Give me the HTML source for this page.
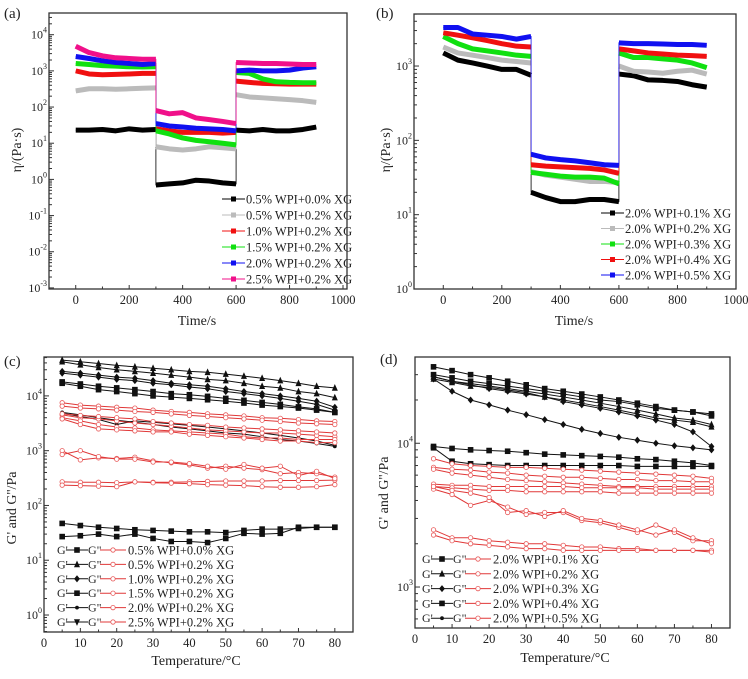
<!DOCTYPE html>
<html><head><meta charset="utf-8"><style>
body{margin:0;background:#fff;width:748px;height:674px;overflow:hidden}
svg{font-family:"Liberation Serif",serif}
</style></head><body>
<svg id="fig" width="748" height="674" viewBox="0 0 748 674" xmlns="http://www.w3.org/2000/svg"></svg>
<script>
// ---------- Panel (a) data ----------
const aTimes = [0,50,100,150,200,250,300];
const aLabels = ["0.5% WPI+0.0% XG","0.5% WPI+0.2% XG","1.0% WPI+0.2% XG","1.5% WPI+0.2% XG","2.0% WPI+0.2% XG","2.5% WPI+0.2% XG"];
const aColors = ["#000","#bbb","#f01010","#10e010","#1010f0","#f0108a"];
const aPhase1 = [[23,23,24,22,25,23,24],[280,320,320,310,320,330,340],[1000,820,780,800,820,850,850],[1600,1500,1400,1350,1300,1280,1300],[2500,2200,1900,1700,1600,1500,1600],[4800,3200,2600,2300,2200,2100,2100]];
const aPhase2 = [[0.7,0.75,0.8,0.95,0.9,0.8,0.75],[8,7,6.5,7,8,7.5,7],[25,22,20,20,20,19,20],[22,18,14,12,11,10,9],[35,30,28,26,25,24,22],[80,65,70,50,45,40,35]];
const aPhase3 = [[23,22,24,22,22,24,28],[220,190,180,170,160,150,135],[520,480,450,440,430,430,430],[900,850,600,500,480,470,470],[1000,1050,1000,1000,1050,1200,1300],[1700,1650,1600,1600,1550,1500,1500]];
// ---------- Panel (b) data ----------
const bLabels = ["2.0% WPI+0.1% XG","2.0% WPI+0.2% XG","2.0% WPI+0.3% XG","2.0% WPI+0.4% XG","2.0% WPI+0.5% XG"];
const bColors = ["#000","#bbb","#10e010","#f01010","#1010f0"];
const bPhase1 = [[1500,1200,1100,1000,900,900,750],[1800,1500,1400,1300,1200,1150,1100],[2500,2000,1700,1600,1500,1400,1350],[2800,2600,2400,2200,2000,1850,1800],[3300,3300,2700,2600,2500,2300,2500]];
const bPhase2 = [[20,17,15,15,16,16,15],[38,34,32,30,28,28,27],[37,35,33,32,32,31,26],[47,45,44,43,42,40,36],[65,58,55,53,50,47,46]];
const bPhase3 = [[780,740,650,640,620,560,520],[1000,850,830,800,850,880,780],[1500,1300,1300,1250,1200,1100,950],[1700,1600,1500,1450,1400,1380,1350],[2050,2000,2000,1980,1950,1950,1900]];
// ---------- Panel (c) data ----------
const temps = [5,10,15,20,25,30,35,40,45,50,55,60,65,70,75,80];
const cLabels = ["0.5% WPI+0.0% XG","0.5% WPI+0.2% XG","1.0% WPI+0.2% XG","1.5% WPI+0.2% XG","2.0% WPI+0.2% XG","2.5% WPI+0.2% XG"];
const cBlack = [[47,43,40,38,36,35,34,33,33,32,35,37,37,38,40,40],[27,28,30,27,30,25,22,22,21,25,31,30,31,40,40,40],
[45000,42000,39000,36000,34000,32000,30000,28000,27000,25000,23000,21000,19000,17000,15000,14000],
[42000,37000,33000,30000,28000,26000,24000,22000,20000,19000,17000,15000,14000,12000,11000,9300],
[28000,26000,24000,22000,21000,19000,17000,16000,15000,13500,12000,11000,10000,9000,8000,6200],
[26000,24000,22000,20000,19000,17000,16000,14500,13500,12000,11000,10000,9000,8000,7000,5500],
[18000,16500,15000,14000,13000,12000,11000,10500,9800,9000,8300,7600,7000,6300,5800,5000],
[17000,15000,13000,12000,11000,10000,9500,9000,8500,8000,7400,6800,6400,6000,5500,5000],
[5000,4500,4000,3600,3300,3000,2700,2500,2300,2100,2000,1800,1600,1500,1350,1200],
[4800,4200,3700,3000,3500,3300,3100,2900,2700,2500,2300,2100,1900,1700,1500,1250]];
const cRed = [[270,265,265,260,270,265,265,270,275,280,280,280,285,285,285,290],[235,230,225,220,270,260,255,250,240,235,230,220,215,215,220,240],
[1000,680,740,720,760,650,600,550,480,520,480,450,380,400,380,330],[850,1000,780,700,700,620,620,580,520,460,560,480,520,350,420,310],
[7500,6800,6500,6200,6000,5500,5200,5000,4700,4500,4300,4000,3900,3700,3500,3400],[6500,6000,5800,5500,5200,5000,4700,4400,4200,4000,3800,3600,3400,3200,3100,3000],
[4500,4000,3800,3500,3200,3000,2800,2600,2400,2300,2200,2100,2100,2000,1900,1800],[4000,3500,3000,2700,2600,2400,2300,2200,2100,2000,1800,1700,1700,1600,1600,1600],
[3800,3000,2500,2400,2300,2200,2200,2000,1900,1800,1700,1600,1500,1500,1400,1400],[4700,4400,4200,4000,3800,3400,3200,3000,2900,2700,2600,2500,2400,2300,2200,2100]];
// ---------- Panel (d) data ----------
const dLabels = ["2.0% WPI+0.1% XG","2.0% WPI+0.2% XG","2.0% WPI+0.3% XG","2.0% WPI+0.4% XG","2.0% WPI+0.5% XG"];
const dBlack = [[34000,32000,30000,28500,27000,25500,24000,23000,22000,21000,20000,19000,18000,17000,16500,16000],
[30000,28500,27000,26000,25000,24000,23000,22000,21000,20000,19500,18500,17500,17000,16500,15500],
[29000,27000,26000,25000,24000,23000,22000,21000,20000,19000,18000,17000,16000,15000,14500,13500],
[28000,26500,25000,24500,23500,22500,21000,20000,19000,18000,17000,16000,15000,14500,14000,13000],
[29000,27000,25500,24000,23000,22000,21000,19500,18500,17500,16500,15500,14500,13500,12000,9500],
[28000,23000,20000,18500,17000,15800,14600,13500,12500,11700,11000,10500,10000,9600,9300,9000],
[9500,9200,9000,8900,8800,8600,8400,8300,8200,8100,8000,7800,7700,7500,7300,7000],
[9300,7500,7200,7100,7000,7000,7000,7000,7000,7000,7000,6900,6900,6900,6900,6900]];
const dRed = [[7800,7200,7000,6900,6800,6800,6700,6600,6500,6400,6300,6200,6100,6000,5900,5700],
[6800,6600,6500,6300,6200,6000,5900,5800,5800,5700,5600,5600,5500,5500,5400,5400],
[6600,6200,6000,5800,5600,5500,5400,5300,5200,5100,5000,5000,5000,5000,5000,5000],
[5200,5100,5100,5000,5000,5000,5000,5000,4900,4900,4900,4900,4800,4800,4800,4800],
[5000,4900,4800,4700,4700,4600,4600,4600,4600,4600,4500,4500,4500,4500,4500,4500],
[4800,4400,3700,4000,3600,3200,3300,3300,2900,2800,2600,2400,2700,2400,2100,2100],
[5000,4700,4500,4200,3300,3400,3100,3400,3000,2900,2700,2500,2300,2500,2200,2000],
[2500,2200,2200,2100,2050,2000,2000,1950,1900,1900,1850,1850,1800,1800,1800,1800],
[2300,2100,2000,1950,1900,1850,1850,1800,1800,1800,1800,1800,1800,1800,1800,1750]];

const NS="http://www.w3.org/2000/svg";
const fig=document.getElementById('fig');
function el(tag,attrs,parent,txt){const e=document.createElementNS(NS,tag);for(const k in attrs)e.setAttribute(k,attrs[k]);if(txt!==undefined)e.textContent=txt;(parent||fig).appendChild(e);return e;}

function makePanel(P){
  const g=el('g',{});
  
  
  const sx=v=>P.x0+(v-P.xmin)/(P.xmax-P.xmin)*(P.x1-P.x0);
  const sy=v=>P.y1-(Math.log10(v)-P.lmin)/(P.lmax-P.lmin)*(P.y1-P.y0);
  P.sx=sx;P.sy=sy;P.g=g;
  const box=el('rect',{x:P.x0,y:P.y0,width:P.x1-P.x0,height:P.y1-P.y0,fill:'none',stroke:'#333','stroke-width':1.3},g);
  
  
  const step=P.xticks[1]-P.xticks[0];
  P.xticks.forEach(t=>{const x=sx(t);el('line',{x1:x,x2:x,y1:P.y1,y2:P.y1-4,stroke:'#333'},g);
    const xm=sx(t+step/2);if(xm<P.x1-1)el('line',{x1:xm,x2:xm,y1:P.y1,y2:P.y1-2.5,stroke:'#333'},g);
    const tl=el('text',{x:x,y:P.y1+15,'font-size':12.5,'text-anchor':'middle',fill:'#222'},g,String(t));
    
    });
  for(let d=Math.floor(P.lmin);d<=Math.ceil(P.lmax);d++){
    for(let m=1;m<10;m++){const v=Math.log10(m)+d;if(v<P.lmin-1e-6||v>P.lmax)continue;const y=sy(Math.pow(10,v));
      el('line',{x1:P.x0,x2:P.x0+(m==1?5:3),y1:y,y2:y,stroke:'#333'},g);}
    if(d>=P.lmin-1e-6&&d<=P.lmax&&P.ylabels.includes(d)){const y=sy(Math.pow(10,d));
      const tl=el('text',{x:P.x0-2,y:y+4,'font-size':12,'text-anchor':'end',fill:'#222'},g,'10');
      
      
      el('tspan',{dy:-6,'font-size':8},tl,String(d));}
  }
  const xt=el('text',{x:P.xtx,y:P.xty,'font-size':14,'text-anchor':'middle',fill:'#222'},g,P.xtitle);
  
  
  const yt=el('text',{x:0,y:0,'font-size':14,'text-anchor':'middle',fill:'#222',transform:`translate(${P.ytx},${P.yty}) rotate(-90)`},g,P.ytitle);
  
  
  const pl=el('text',{x:P.lx,y:P.ly,'font-size':15,fill:'#222'},g,P.label);
  
  
  return P;
}

function flowSeries(P,times,ph1,ph2,ph3,colors,labels,leg){
  ph1.forEach((s,i)=>{
    const c=colors[i];
    const sg=el('g',{},P.g);
    
    
    const segs=[[0,ph1[i]],[300,ph2[i]],[600,ph3[i]]];
    const thin=[];
    segs.forEach(([off,vals])=>{
      const pts=vals.map((v,k)=>[P.sx(off+times[k]),P.sy(v)]);
      thin.push(...pts);
      el('polyline',{points:pts.map(p=>p.join(',')).join(' '),fill:'none',stroke:c,'stroke-width':5,'stroke-linejoin':'round'},sg);
    });
    el('polyline',{points:thin.map(p=>p.join(',')).join(' '),fill:'none',stroke:c,'stroke-width':0.8},sg);
    const y=leg.y0+i*leg.dy;
    const lg=el('g',{},P.g);
    
    
    el('line',{x1:leg.x,x2:leg.x+23,y1:y,y2:y,stroke:c,'stroke-width':1},lg);
    el('rect',{x:leg.x+9,y:y-2.5,width:5,height:5,fill:c},lg);
    el('text',{x:leg.x+24,y:y+4.5,'font-size':12.5,fill:'#222'},lg,labels[i]);
  });
}
const A=makePanel({id:'a',x0:49,x1:347,y0:13,y1:289,xmin:-100,xmax:1015,lmin:-3.03,lmax:4.6,xticks:[0,200,400,600,800,1000],ylabels:[-3,-2,-1,0,1,2,3,4],
 xtitle:'Time/s',xtx:197,xty:325,ytitle:'η/(Pa·s)',ytx:21,yty:150,label:'(a)',lx:4,ly:18});
flowSeries(A,aTimes,aPhase1,aPhase2,aPhase3,aColors,aLabels,{x:222,y0:199,dy:16});
const B=makePanel({id:'b',x0:414,x1:736,y0:14,y1:289,xmin:-100,xmax:1000,lmin:0,lmax:3.7,xticks:[0,200,400,600,800,1000],ylabels:[0,1,2,3],
 xtitle:'Time/s',xtx:574,xty:325,ytitle:'η/(Pa·s)',ytx:390,yty:150,label:'(b)',lx:376,ly:18});
flowSeries(B,aTimes,bPhase1,bPhase2,bPhase3,bColors,bLabels,{x:601,y0:213,dy:15.5});

function marker(g,type,x,y,fill,stroke){
  const r=2.4;
  if(type==='sq')el('rect',{x:x-r,y:y-r,width:2*r,height:2*r,fill,stroke,'stroke-width':0.8},g);
  else if(type==='tu')el('polygon',{points:`${x},${y-r-0.5} ${x-r},${y+r} ${x+r},${y+r}`,fill,stroke,'stroke-width':0.8},g);
  else if(type==='td')el('polygon',{points:`${x},${y+r+0.5} ${x-r},${y-r} ${x+r},${y-r}`,fill,stroke,'stroke-width':0.8},g);
  else if(type==='di')el('polygon',{points:`${x},${y-r-0.5} ${x+r},${y} ${x},${y+r+0.5} ${x-r},${y}`,fill,stroke,'stroke-width':0.8},g);
  else if(type==='ci')el('circle',{cx:x,cy:y,r:2.2,fill,stroke,'stroke-width':0.8},g);
  else el('circle',{cx:x,cy:y,r:1.5,fill,stroke,'stroke-width':0.8},g);
}
const mtypes=['sq','tu','di','sq','sm','td'];
function tempSeries(P,black,red,labels,leg){
  black.forEach((s,i)=>{
    const sg=el('g',{},P.g);
    
    
    const pts=temps.map((t,k)=>[P.sx(t),P.sy(s[k])]);
    el('polyline',{points:pts.map(p=>p.join(',')).join(' '),fill:'none',stroke:'#111','stroke-width':1},sg);
    pts.forEach(p=>marker(sg,mtypes[Math.floor(i/2)%6],p[0],p[1],'#111','#111'));
  });
  red.forEach((s,i)=>{
    const sg=el('g',{},P.g);
    
    
    const pts=temps.map((t,k)=>[P.sx(t),P.sy(s[k])]);
    el('polyline',{points:pts.map(p=>p.join(',')).join(' '),fill:'none',stroke:'#e03838','stroke-width':1},sg);
    pts.forEach(p=>marker(sg,'ci',p[0],p[1],'#fff','#e85858'));
  });
  labels.forEach((lab,i)=>{
    const y=leg.y0+i*leg.dy;
    const lg=el('g',{},P.g);
    
    
    el('text',{x:leg.x,y:y+4,'font-size':12,fill:'#222'},lg,"G'");
    el('line',{x1:leg.x+9,x2:leg.x+31,y1:y,y2:y,stroke:'#111'},lg);
    marker(lg,mtypes[i],leg.x+20,y,'#111','#111');
    el('text',{x:leg.x+31,y:y+4,'font-size':12,fill:'#222'},lg,'G"');
    el('line',{x1:leg.x+43,x2:leg.x+69,y1:y,y2:y,stroke:'#e03838'},lg);
    marker(lg,'ci',leg.x+56,y,'#fff','#e85858');
    el('text',{x:leg.x+71,y:y+4.5,'font-size':12.5,fill:'#222'},lg,lab);
  });
}
const C=makePanel({id:'c',x0:44,x1:353,y0:357,y1:632,xmin:0,xmax:85,lmin:-0.31,lmax:4.71,xticks:[0,10,20,30,40,50,60,70,80],ylabels:[0,1,2,3,4],
 xtitle:'Temperature/°C',xtx:196,xty:665,ytitle:"G' and G''/Pa",ytx:16,yty:508,label:'(c)',lx:4,ly:366});
tempSeries(C,cBlack,cRed,cLabels,{x:57,y0:550,dy:14.4});
const D=makePanel({id:'d',x0:415,x1:730,y0:357,y1:628,xmin:0,xmax:85,lmin:2.715,lmax:4.6,xticks:[0,10,20,30,40,50,60,70,80],ylabels:[3,4],
 xtitle:'Temperature/°C',xtx:565,xty:662,ytitle:"G' and G''/Pa",ytx:388,yty:493,label:'(d)',lx:380,ly:364});
tempSeries(D,dBlack,dRed,dLabels,{x:422,y0:559,dy:14.8});
</script>
</body></html>
